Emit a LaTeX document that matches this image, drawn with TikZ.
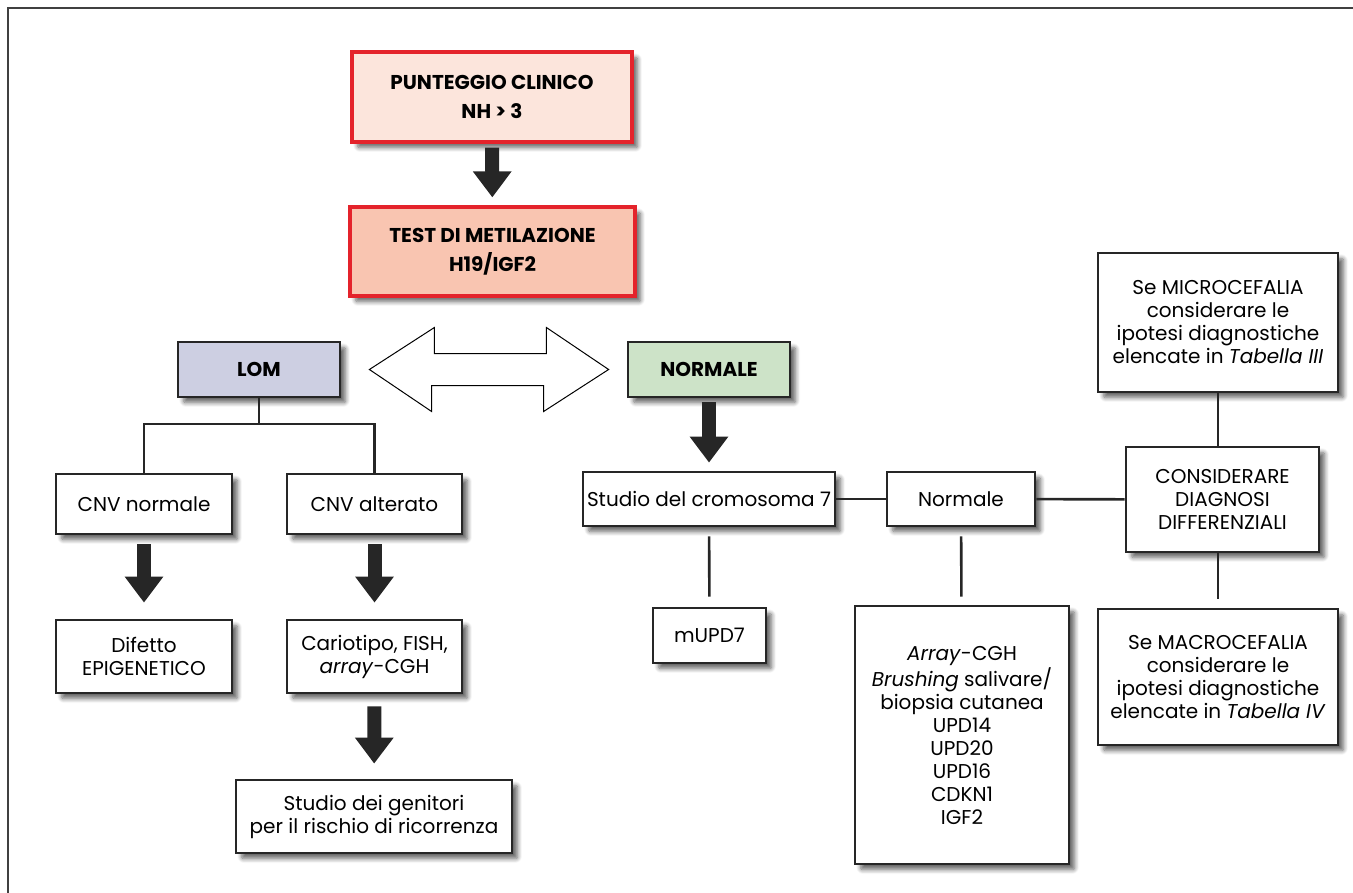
\documentclass[tikz,border=0pt]{standalone}
\usepackage{fontspec}
\setmainfont{Poppins}
\usepackage{xcolor}
\usepackage{tikz}
\usetikzlibrary{positioning,arrows.meta,calc,shadows.blur}

\definecolor{boxred}{HTML}{E4232B}
\definecolor{peach}{HTML}{FCE5DC}
\definecolor{salmon}{HTML}{F9C5B1}
\definecolor{lilac}{HTML}{CDCFE2}
\definecolor{mint}{HTML}{CDE3C8}

\begin{document}
\begin{tikzpicture}[x=0.5pt, y=-0.5pt,
    box/.style={rectangle, draw=black!85, line width=1.4pt, fill=white, align=center,
                inner sep=2pt, font=\fontsize{10}{11.5}\selectfont,
                blur shadow={shadow xshift=2.8pt, shadow yshift=-2.8pt,
                             shadow blur steps=8, shadow blur extra rounding=1pt,
                             shadow opacity=60}},
    headbox/.style={box, draw=boxred, line width=1.6pt, font=\bfseries\fontsize{10}{14.5}\selectfont},
    bigarrow/.style={line width=7pt, draw=black!85,
                     -{Triangle[length=13pt, width=18.5pt]},
                     shorten <=2pt, shorten >=4pt},
    link/.style={line width=1.3pt, draw=black!85},
    dblarrow/.style={line width=0.5pt, draw=black, fill=white},
    frame/.style={line width=1.4pt, draw=black!75}
]
\useasboundingbox (0,0) rectangle (1353,893);
\draw[frame] (8,893) -- (8,8) -- (1353,8);

% top of the chart
\node[headbox, fill=peach,  minimum width=140pt, minimum height=45pt]   (clin)  at (492,97)    {PUNTEGGIO CLINICO\\NH > 3};
\node[headbox, fill=salmon, minimum width=142.5pt, minimum height=44.5pt] (metil) at (492.5,251.5) {TEST DI METILAZIONE\\H19/IGF2};
\node[headbox, draw=black!85, line width=1.4pt, fill=lilac, minimum width=81pt, minimum height=27.5pt] (lom)  at (259,369.5) {LOM};
\node[headbox, draw=black!85, line width=1.4pt, fill=mint,  minimum width=81pt, minimum height=27.5pt] (norm) at (709,369.5) {NORMALE};

% left branch
\node[box, minimum width=88pt,   minimum height=30pt]   (cnvn)  at (144,504)     {CNV normale};
\node[box, minimum width=87.5pt, minimum height=30pt]   (cnva)  at (374.5,504)   {CNV alterato};
\node[box, minimum width=88pt,   minimum height=36.5pt] (difet) at (144,656.5)   {Difetto\\EPIGENETICO};
\node[box, minimum width=87.5pt, minimum height=36.5pt] (cario) at (374.5,656.5) {Cariotipo, FISH,\\\textit{array}-CGH};
\node[box, minimum width=138pt,  minimum height=36.5pt] (genit) at (374,816.5)   {Studio dei genitori\\per il rischio di ricorrenza};

% right branch
\node[box, minimum width=126pt,  minimum height=27pt]   (crom)  at (709,499)     {Studio del cromosoma 7};
\node[box, minimum width=56.5pt, minimum height=27.5pt] (mupd)  at (709.5,635.5) {mUPD7};
\node[box, minimum width=74pt,   minimum height=27pt]   (normb) at (961,499)     {Normale};
\node[box, minimum width=107pt,  minimum height=129pt]  (array) at (962,735)
    {\textit{Array}-CGH\\\textit{Brushing} salivare/\\biopsia cutanea\\UPD14\\UPD20\\UPD16\\CDKN1\\IGF2};
\node[box, minimum width=96.5pt, minimum height=52.5pt] (diff)  at (1222.5,499.5) {CONSIDERARE\\DIAGNOSI\\DIFFERENZIALI};
\node[box, minimum width=120pt,  minimum height=69.5pt] (micro) at (1218,322.5)
    {Se MICROCEFALIA\\considerare le\\ipotesi diagnostiche\\elencate in \textit{Tabella III}};
\node[box, minimum width=120pt,  minimum height=68pt]   (macro) at (1218,677)
    {Se MACROCEFALIA\\considerare le\\ipotesi diagnostiche\\elencate in \textit{Tabella IV}};

% thick arrows
\draw[bigarrow] (clin) -- (metil);
\draw[bigarrow] (norm) -- (crom);
\draw[bigarrow, shorten <=4.5pt, shorten >=8pt] (cnvn) -- (difet);
\draw[bigarrow, shorten <=4.5pt, shorten >=8pt] (cnva) -- (cario);
\draw[bigarrow, shorten <=6pt, shorten >=7.5pt] (cario) -- (genit);

% open double arrow
\coordinate (dl) at ([xshift=14pt]lom.east);
\coordinate (dr) at ([xshift=-9pt]norm.west);
\draw[dblarrow] (dl) -- ++(65,-42) -- ++(0,26) -- ++(112,0) -- ++(0,-26) -- (dr)
    -- ++(-65,42) -- ++(0,-26) -- ++(-112,0) -- ++(0,26) -- cycle;

% plain connectors
\coordinate (lomfork) at (259,424);
\draw[link] (lom) -- (lomfork);
\draw[link] (cnvn.north) |- (lomfork) -| (cnva.north);
\draw[link, shorten <=4.5pt, shorten >=5pt] (crom) -- (mupd);
\draw[link] (crom) -- (normb);
\draw[link] (normb) -- (diff);
\draw[link, shorten <=4.5pt, shorten >=4pt] (normb) -- (array);
\draw[link] (micro.south) -- (micro.south |- diff.north);
\draw[link, shorten >=4.5pt] (micro.south |- diff.south) -- (micro.south |- macro.north);

\end{tikzpicture}
\end{document}
